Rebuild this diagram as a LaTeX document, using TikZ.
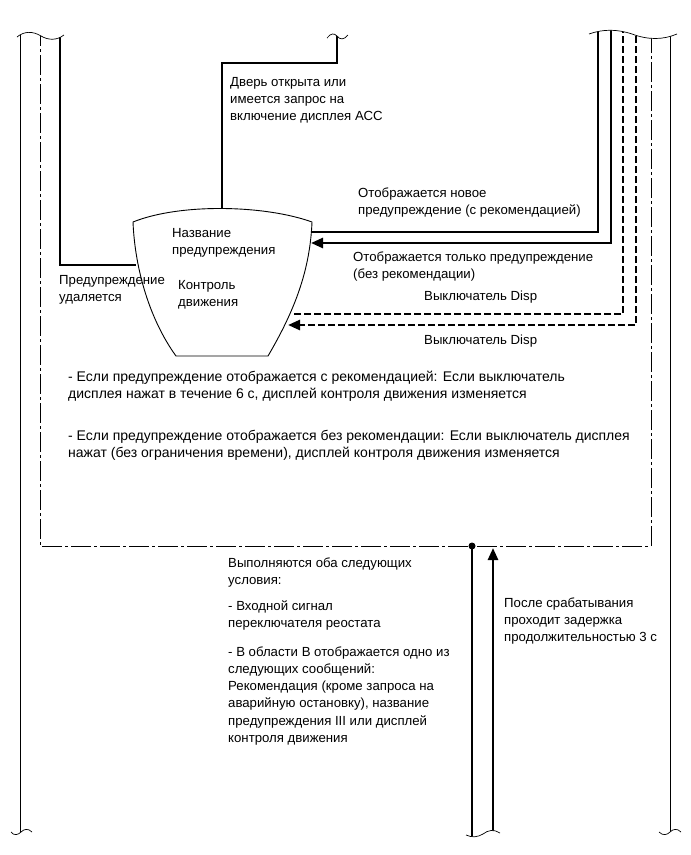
\documentclass[tikz,border=0pt]{standalone}
\usepackage{fontspec}
\setmainfont{Liberation Sans}
\usetikzlibrary{arrows.meta}
\begin{document}
\begin{tikzpicture}[x=1pt,y=-1pt,
  thickline/.style={line width=2.6pt},
  thinline/.style={line width=0.8pt},
  ddline/.style={line width=0.8pt, dash pattern=on 20pt off 3pt on 3pt off 3pt},
  dshline/.style={line width=2.6pt, dash pattern=on 7pt off 3pt},
  tipend/.style={-{Triangle[length=12pt,width=10pt]}},
  lbl/.style={anchor=north west, inner sep=0pt, align=left, font=\fontsize{13.2}{17.2}\selectfont},
  para/.style={lbl, font=\fontsize{14}{17}\selectfont},
  wave/.style={line width=0.7pt},
  blank/.style={fill=white, draw=none}]
\useasboundingbox (0,0) rectangle (691,855);

% ---------- coordinates ----------
\coordinate (L1t) at (20,26);   \coordinate (L1b) at (20,845);
\coordinate (L2t) at (40,26);
\coordinate (L3t) at (60,26);   \coordinate (L3c) at (60,265);
\coordinate (sL) at (136,265);
\coordinate (Mt) at (337,26);   \coordinate (Mc) at (337,63);
\coordinate (Mc2) at (222,63);  \coordinate (sT) at (222,209);
\coordinate (R1t) at (598,26);  \coordinate (R1c) at (598,232); \coordinate (sR1) at (312,232);
\coordinate (R2t) at (611,26);  \coordinate (R2c) at (611,243); \coordinate (sR2) at (311,243);
\coordinate (R3t) at (623,26);  \coordinate (R3c) at (623,314); \coordinate (sR3) at (293,314);
\coordinate (R4t) at (636,26);  \coordinate (R4c) at (636,325); \coordinate (sR4) at (288,325);
\coordinate (R5t) at (651,26);
\coordinate (R6t) at (670,26);  \coordinate (R6b) at (670,845);
\coordinate (BL) at (40,546);   \coordinate (BR) at (651,546);
\coordinate (dot) at (472,546); \coordinate (dotb) at (472,845);
\coordinate (upb) at (493,845); \coordinate (upt) at (493,548);

% ---------- lines ----------
\draw[thinline] (L1t) -- (L1b);
\draw[thinline] (R6t) -- (R6b);
\draw[ddline] (L2t) -- (BL) -- (BR) -- (R5t);
\draw[thickline] (L3t) -- (L3c) -- (sL);
\draw[thickline] (Mt) -- (Mc) -- (Mc2) -- (sT);
\draw[thickline] (R1t) -- (R1c) -- (sR1);
\draw[thickline,tipend] (R2t) -- (R2c) -- (sR2);
\draw[dshline] (R3t) -- (R3c) -- (sR3);
\draw[dshline,tipend] (R4t) -- (R4c) -- (sR4);
\draw[thickline] (dot) -- (dotb);
\draw[thickline,tipend] (upb) -- (upt);
\fill (dot) circle (3.5);

% ---------- bowl shape ----------
\draw[line width=0.9pt, fill=white] (133,222) .. controls (180,203) and (265,205) .. (312,222)
  .. controls (310,270) and (295,310) .. (268,356) -- (176,356)
  .. controls (150,320) and (135,270) .. (133,222) -- cycle;

% ---------- break marks (top) ----------
\fill[blank] (17,37) .. controls (24,31) and (33,31) .. (41,36) .. controls (48,40) and (56,41) .. (64,35) -- (64,15) -- (17,15) -- cycle;
\draw[wave] (17,37) .. controls (24,31) and (33,31) .. (41,36) .. controls (48,40) and (56,41) .. (64,35);
\fill[blank] (327,38) .. controls (331,33) and (334,33) .. (337,36) .. controls (340,40) and (344,40) .. (348,35) -- (348,15) -- (327,15) -- cycle;
\draw[wave] (327,38) .. controls (331,33) and (334,33) .. (337,36) .. controls (340,40) and (344,40) .. (348,35);
\fill[blank] (589,34) .. controls (603,29) and (617,29) .. (632,34) .. controls (648,40) and (663,40) .. (677,34) -- (677,15) -- (589,15) -- cycle;
\draw[wave] (589,34) .. controls (603,29) and (617,29) .. (632,34) .. controls (648,40) and (663,40) .. (677,34);

% ---------- break marks (bottom) ----------
\fill[blank] (11,832) .. controls (14,836) and (18,835) .. (21,832) .. controls (24,829) and (28,828) .. (32,832) -- (32,852) -- (11,852) -- cycle;
\draw[wave] (11,832) .. controls (14,836) and (18,835) .. (21,832) .. controls (24,829) and (28,828) .. (32,832);
\fill[blank] (466,835) .. controls (472,838) and (478,837) .. (483,834) .. controls (488,830) and (494,829) .. (500,833) -- (500,852) -- (466,852) -- cycle;
\draw[wave] (466,835) .. controls (472,838) and (478,837) .. (483,834) .. controls (488,830) and (494,829) .. (500,833);
\fill[blank] (659,832) .. controls (663,836) and (667,835) .. (670,832) .. controls (673,829) and (677,828) .. (681,832) -- (681,852) -- (659,852) -- cycle;
\draw[wave] (659,832) .. controls (663,836) and (667,835) .. (670,832) .. controls (673,829) and (677,828) .. (681,832);

% ---------- texts ----------
\node[lbl] (tdoor) at (230,74) {\strut Дверь открыта или\\имеется запрос на\\включение дисплея АСС};
\node[lbl] (tname) at (172,225) {\strut Название\\предупреждения};
\node[lbl] (tctrl) at (178,277) {\strut Контроль\\движения};
\node[lbl] (tdel) at (59,272) {\strut Предупреждение\\удаляется};
\node[lbl] (tnew) at (358,185) {\strut Отображается новое\\предупреждение (с рекомендацией)};
\node[lbl] (tonly) at (353,249) {\strut Отображается только предупреждение\\(без рекомендации)};
\node[lbl] (tdisp1) at (424,288) {\strut Выключатель Disp};
\node[lbl] (tdisp2) at (424,332) {\strut Выключатель Disp};
\node[para] (tp1) at (68,369) {\strut - Если предупреждение отображается с рекомендацией: Если выключатель\\дисплея нажат в течение 6 с, дисплей контроля движения изменяется};
\node[para] (tp2) at (68,428) {\strut - Если предупреждение отображается без рекомендации: Если выключатель дисплея\\нажат (без ограничения времени), дисплей контроля движения изменяется};
\node[lbl] (tboth) at (228,555) {\strut Выполняются оба следующих\\условия:};
\node[lbl] (tin) at (228,598) {\strut - Входной сигнал\\переключателя реостата};
\node[lbl] (tarea) at (228,644) {\strut - В области В отображается одно из\\следующих сообщений:\\Рекомендация (кроме запроса на\\аварийную остановку), название\\предупреждения III или дисплей\\контроля движения};
\node[lbl] (tafter) at (504,595) {\strut После срабатывания\\проходит задержка\\продолжительностью 3 с};
\end{tikzpicture}
\end{document}
